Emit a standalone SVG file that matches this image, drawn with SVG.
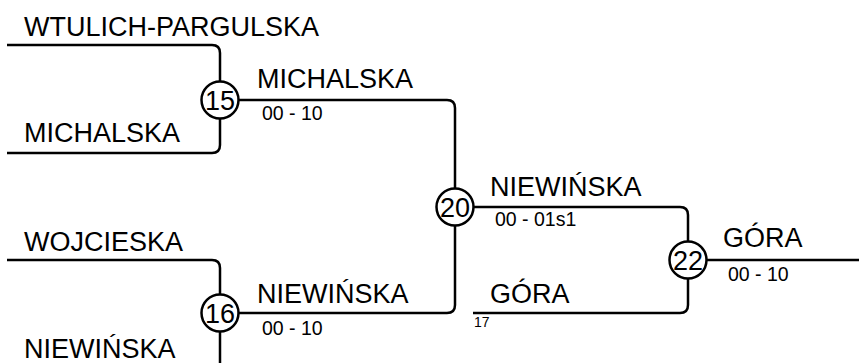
<svg xmlns="http://www.w3.org/2000/svg" width="859" height="363" viewBox="0 0 859 363">
<style>
.ln{fill:none;stroke:#000;stroke-width:2.5}
.nd{fill:#fff;stroke:#000;stroke-width:2.5}
.nm{font-family:"Liberation Sans",Arial,sans-serif;font-size:27px;text-anchor:middle;fill:#000}
.t{font-family:"Liberation Sans",Arial,sans-serif;font-size:27px;fill:#000}
.s{font-family:"Liberation Sans",Arial,sans-serif;font-size:19.5px;fill:#000}
.x{font-family:"Liberation Sans",Arial,sans-serif;font-size:14px;fill:#000}
</style>
<rect width="859" height="363" fill="#fff"/>
<g id="connectors">
<path class="ln" d="M7,45 H212 Q220,45 220,53 V100"/>
<path class="ln" d="M7,153 H212 Q220,153 220,145 V100"/>
<path class="ln" d="M220,100 H447 Q455,100 455,108 V207"/>
<path class="ln" d="M7,260 H212 Q220,260 220,268 V313"/>
<path class="ln" d="M220,313 V363"/>
<path class="ln" d="M220,313 H447 Q455,313 455,305 V207"/>
<path class="ln" d="M455,207 H680 Q688,207 688,215 V260"/>
<path class="ln" d="M473,313 H680 Q688,313 688,305 V260"/>
<path class="ln" d="M688,260 H859"/>
</g>
<g id="labels">
<text class="t" x="24" y="35.5">WTULICH-PARGULSKA</text>
<text class="t" x="24" y="141.7">MICHALSKA</text>
<text class="t" x="257" y="88.3">MICHALSKA</text>
<text class="s" x="262" y="120">00 - 10</text>
<text class="t" x="24" y="250.7">WOJCIESKA</text>
<text class="t" x="24" y="358.3">NIEWIŃSKA</text>
<text class="t" x="257" y="303.3">NIEWIŃSKA</text>
<text class="s" x="262" y="335">00 - 10</text>
<text class="t" x="490" y="195.7">NIEWIŃSKA</text>
<text class="s" x="495" y="226">00 - 01s1</text>
<text class="t" x="490" y="303.3">GÓRA</text>
<text class="x" x="474" y="326.7">17</text>
<text class="t" x="723" y="247.3">GÓRA</text>
<text class="s" x="728" y="280.7">00 - 10</text>
</g>
<g id="node15"><circle class="nd" cx="220" cy="100" r="18.5"/><text class="nm" x="220" y="109.5">15</text></g>
<g id="node16"><circle class="nd" cx="220" cy="313" r="18.5"/><text class="nm" x="220" y="322.5">16</text></g>
<g id="node20"><circle class="nd" cx="455" cy="207" r="18.5"/><text class="nm" x="455" y="216.5">20</text></g>
<g id="node22"><circle class="nd" cx="688" cy="260" r="18.5"/><text class="nm" x="688" y="269.5">22</text></g>
</svg>
